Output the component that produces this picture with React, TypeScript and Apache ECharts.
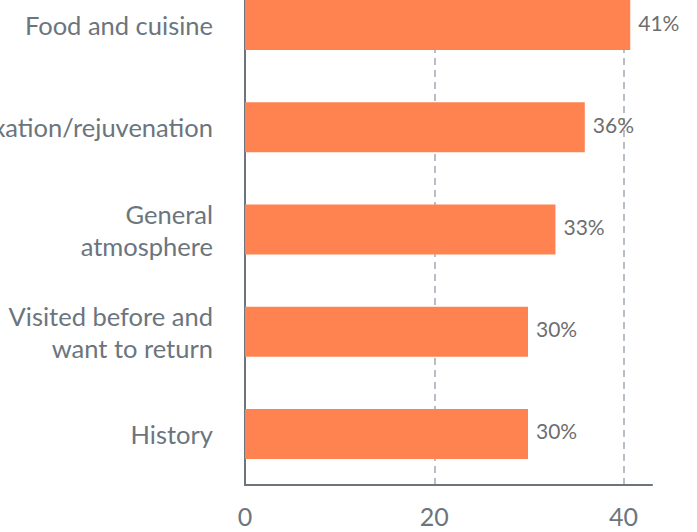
import React, { useEffect, useRef } from "react";
import * as echarts from "echarts";

const categories = [
  "History",
  "Visited before and\nwant to return",
  "General\natmosphere",
  "Relaxation/rejuvenation",
  "Food and cuisine",
];
const values = [29.9, 29.9, 32.8, 35.9, 40.7];
const xTicks = [0, 20, 40];

export default function App() {
  const ref = useRef<HTMLDivElement>(null);
  useEffect(() => {
    if (!ref.current) return;
    const chart = echarts.init(ref.current, undefined, { renderer: "svg" });
    chart.setOption({
      animation: false,
      textStyle: { fontFamily: "Lato" },
      grid: {
        left: 245,
        right: 45,
        top: 4,
        height: 511,
        containLabel: false,
        outerBoundsMode: "none",
      },
      xAxis: {
        type: "value",
        min: xTicks[0],
        max: 43,
        interval: xTicks[1] - xTicks[0],
        axisLine: { show: true, lineStyle: { color: "#6b757e", width: 2 } },
        axisTick: { show: false },
        axisLabel: {
          show: true,
          showMaxLabel: false,
          fontSize: 25,
          color: "#6b757e",
          margin: 18,
          fontFamily: "Lato",
        },
        splitLine: {
          show: true,
          showMinLine: false,
          showMaxLine: false,
          lineStyle: { color: "#b9bec4", type: [7, 5], width: 2 },
        },
      },
      yAxis: {
        type: "category",
        data: categories,
        axisLine: { show: true, lineStyle: { color: "#6b757e", width: 2 } },
        axisTick: { show: false },
        axisLabel: {
          fontSize: 25.5,
          color: "#6b757e",
          margin: 32,
          lineHeight: 32,
          fontFamily: "Lato",
        },
      },
      series: [
        {
          type: "bar",
          data: values,
          barWidth: 50,
          itemStyle: { color: "#ff8350" },
          label: {
            show: true,
            position: "right",
            distance: 8,
            offset: [0, -3],
            fontSize: 21,
            color: "#6e6e6e",
            fontFamily: "Lato",
            formatter: (p: any) => Math.round(p.value) + "%",
          },
        },
      ],
    });
    return () => chart.dispose();
  }, []);
  return (
    <div
      style={{
        position: "fixed",
        left: 0,
        top: 0,
        width: 697,
        height: 532,
        overflow: "hidden",
        background: "#fff",
      }}
    >
      <div
        ref={ref}
        style={{ position: "absolute", left: 0, top: -30, width: 697, height: 562 }}
      />
    </div>
  );
}
